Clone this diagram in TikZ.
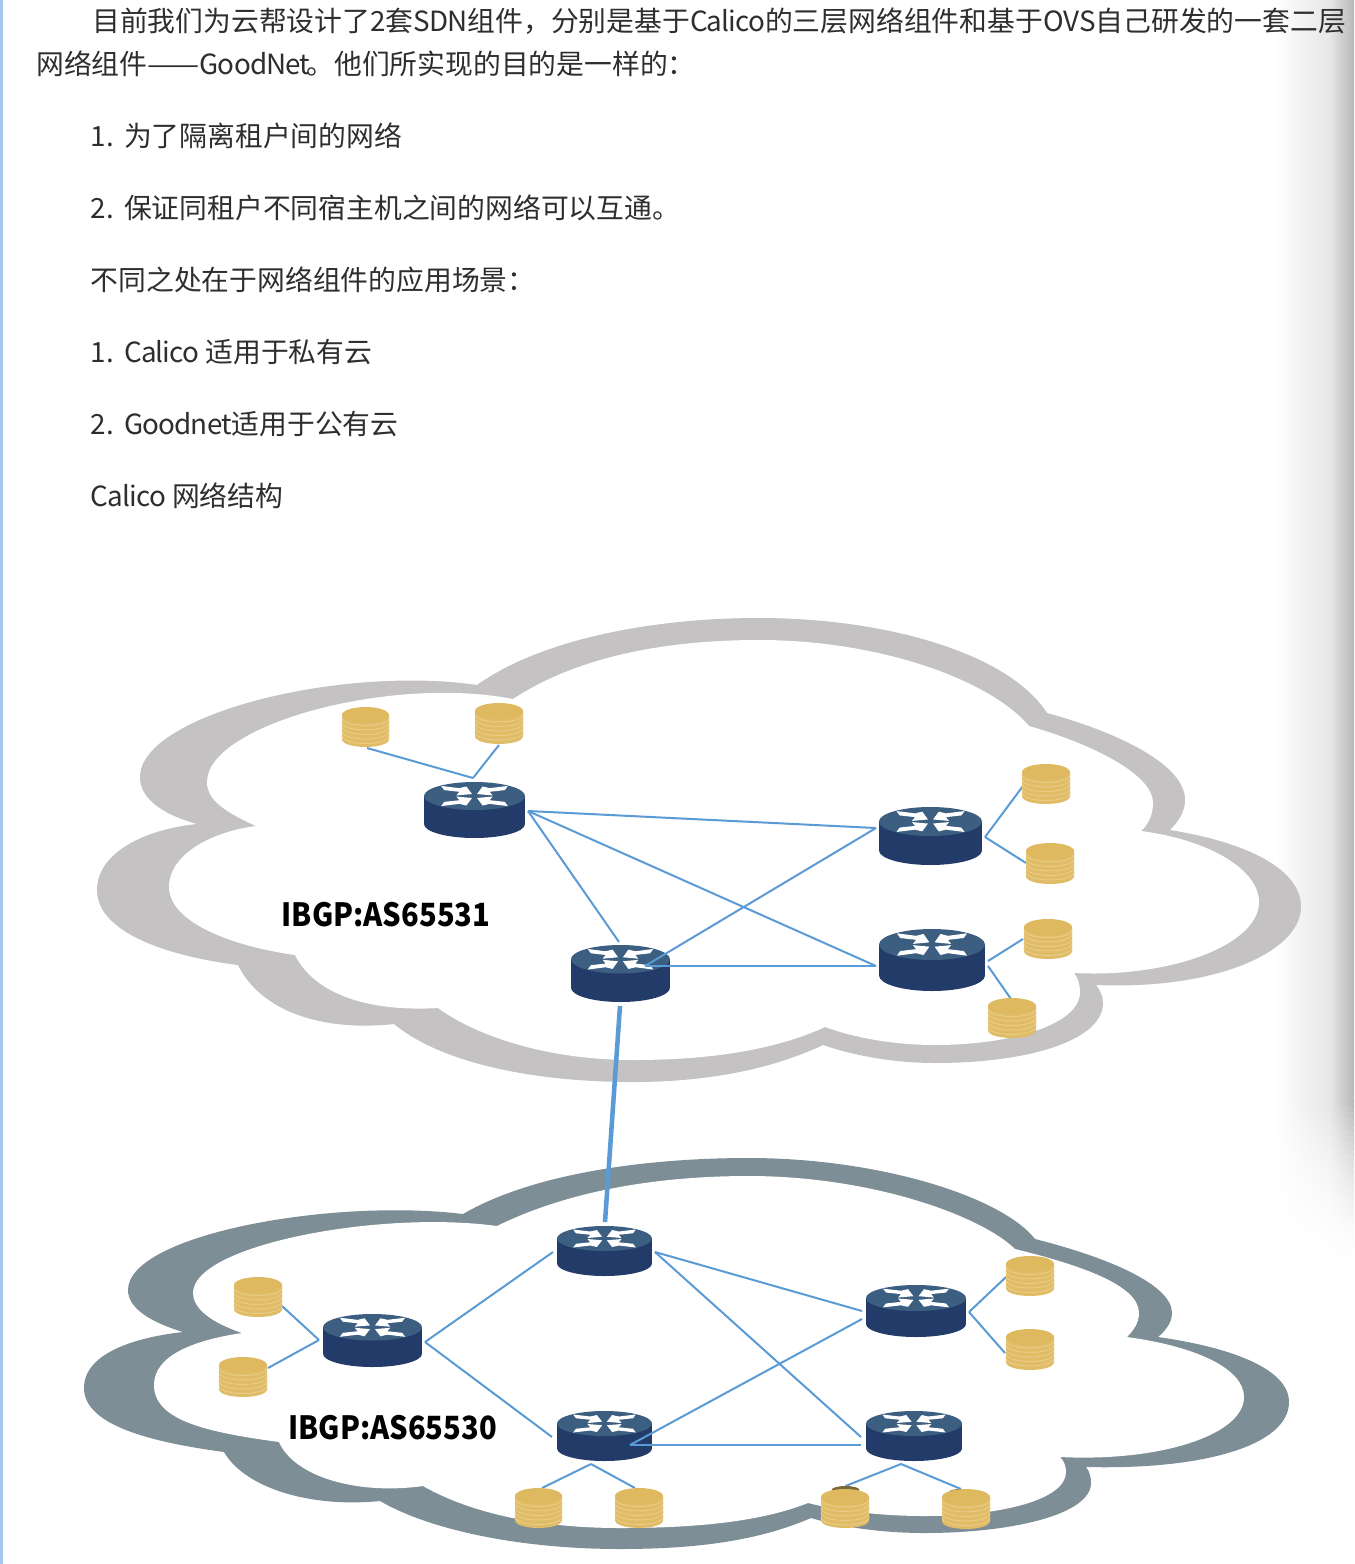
\documentclass[tikz,border=0pt]{standalone}
\usepackage{graphicx}
\usepackage{fontspec}
\setmainfont{Noto Sans CJK SC}
\newfontfamily\lat[LetterSpace=-3]{Noto Sans CJK SC}
\definecolor{cloudA}{HTML}{C4C2C3}
\definecolor{cloudB}{HTML}{7D8E96}
\definecolor{rbody}{HTML}{233B69}
\definecolor{rtop}{HTML}{3C5E80}
\definecolor{dbody}{HTML}{E0BC66}
\definecolor{dtop}{HTML}{DFB95F}
\definecolor{dline}{HTML}{E9CC88}
\definecolor{linkc}{HTML}{5B9BD5}
\definecolor{txt}{HTML}{2E2E2E}
\definecolor{strip}{HTML}{A6C5EE}
\tikzset{
  link/.style={draw=linkc,line width=1.5pt},
  biglink/.style={draw=linkc,line width=3.4pt},
  para/.style={anchor=base west,inner sep=0pt,text=txt,font=\fontsize{20.85pt}{24pt}\selectfont},
  cloudlabel/.style={anchor=center,inner sep=0pt,text=black,font=\fontsize{24pt}{28pt}\selectfont\bfseries},
  hold/.style={inner sep=0pt,outer sep=0pt}
}
% router: name, left, right, top, bottom
\newcommand{\routerbox}[5]{%
  \pgfmathsetmacro{\cxx}{(#2+#3)/2}\pgfmathsetmacro{\cyy}{(#4+#5)/2}%
  \pgfmathsetmacro{\rxx}{(#3-#2)/2}\pgfmathsetmacro{\ryy}{(#5-#4)/4}%
  \node[hold,minimum width={(#3-#2)*0.75pt},minimum height={(#5-#4)*0.75pt}] (#1) at (\cxx,\cyy) {};
  \begin{scope}[shift={(\cxx,\cyy)},x=\rxx*0.75pt,y=-\ryy*0.75pt]
    \fill[rbody] (-1,-1) rectangle (1,1);
    \fill[rbody] (0,1) ellipse [x radius=1,y radius=1];
    \fill[rtop] (0,-1) ellipse [x radius=1,y radius=1];
    \begin{scope}[shift={(0,-1)}]
      \foreach \sx/\sy in {-1/-1,1/-1,-1/1,1/1}{
        \fill[white,xscale=\sx,yscale=\sy] (.66,.72) -- (.60,.42) -- (.30,.30) -- (.36,.04) -- (.05,.14) -- (.16,.68) -- (.30,.56) -- cycle;
      }
    \end{scope}
  \end{scope}}
% disk: name, left, right, top, bottom
\newcommand{\diskbox}[5]{%
  \pgfmathsetmacro{\cxx}{(#2+#3)/2}\pgfmathsetmacro{\cyy}{(#4+#5)/2}%
  \pgfmathsetmacro{\rxx}{(#3-#2)/2}\pgfmathsetmacro{\hhh}{(#5-#4)/2}%
  \node[hold,minimum width={(#3-#2)*0.75pt},minimum height={(#5-#4)*0.75pt}] (#1) at (\cxx,\cyy) {};
  \begin{scope}[shift={(\cxx,\cyy)}]
    \fill[dbody] (-\rxx,{-\hhh+8}) -- (-\rxx,{\hhh-8}) .. controls (-\rxx,{\hhh+2.6}) and (\rxx,{\hhh+2.6}) .. (\rxx,{\hhh-8}) -- (\rxx,{-\hhh+8}) -- cycle;
    \foreach \dd in {-7.5,-3,1.5,6,10.5}{
      \draw[dline,line width=.7pt] (-\rxx,{\dd-2}) .. controls (-\rxx,{\dd+8.6}) and (\rxx,{\dd+8.6}) .. (\rxx,{\dd-2});
    }
    \fill[dtop] (0,{-\hhh+8}) ellipse [x radius=\rxx,y radius=8];
  \end{scope}}
\begin{document}
\begin{tikzpicture}[x=0.75pt,y=-0.75pt]
\useasboundingbox (0,0) rectangle (1354,1564);
\fill[white] (0,0) rectangle (1354,1564);
% page decoration
\fill[strip] (0,0) rectangle (3,1564);
\shade[left color=white,right color=black!10] (1274,0) rectangle (1331,1101);
\shade[left color=black!10,right color=black!28] (1330,0) rectangle (1354,1101);
\foreach \yy in {1100,1106,...,1270}{
  \pgfmathsetmacro{\ff}{max(0,(1-(\yy-1100)/170)^1.8)}
  \pgfmathsetmacro{\aa}{10*\ff}
  \pgfmathsetmacro{\bb}{28*\ff}
  \shade[left color=white,right color=black!\aa] (1274,\yy) rectangle (1331,\yy+7);
  \shade[left color=black!\aa,right color=black!\bb] (1330,\yy) rectangle (1354,\yy+7);
}
% upper cloud
\fill[cloudA] (477,685)
  .. controls (540,640) and (650,618) .. (759,618)
  .. controls (890,618) and (1010,655) .. (1047,713)
  .. controls (1120,733) and (1185,765) .. (1185,800)
  .. controls (1185,812) and (1178,822) .. (1170,830)
  .. controls (1250,843) and (1301,870) .. (1301,907)
  .. controls (1301,950) and (1220,990) .. (1096,985)
  .. controls (1100,990) and (1103,996) .. (1103,1003)
  .. controls (1103,1040) and (1030,1063) .. (935,1063)
  .. controls (895,1063) and (855,1056) .. (823,1045)
  .. controls (770,1070) and (705,1082) .. (633,1082)
  .. controls (530,1082) and (440,1062) .. (394,1024)
  .. controls (320,1032) and (260,1010) .. (238,965)
  .. controls (160,955) and (97,930) .. (97,890)
  .. controls (97,855) and (140,830) .. (197,824)
  .. controls (165,815) and (140,800) .. (140,777)
  .. controls (140,715) and (340,665) .. (477,685) -- cycle;
\fill[white] (513,699)
  .. controls (580,655) and (670,640) .. (759,640)
  .. controls (880,640) and (990,680) .. (1029,726)
  .. controls (1095,745) and (1153,775) .. (1153,803)
  .. controls (1153,815) and (1148,825) .. (1141,831)
  .. controls (1210,840) and (1259,870) .. (1259,902)
  .. controls (1259,945) and (1170,978) .. (1074,973)
  .. controls (1078,978) and (1080,985) .. (1080,992)
  .. controls (1080,1025) and (1010,1045) .. (935,1045)
  .. controls (895,1045) and (855,1038) .. (825,1027)
  .. controls (775,1050) and (710,1060) .. (633,1060)
  .. controls (545,1060) and (475,1035) .. (438,1008)
  .. controls (370,1012) and (315,995) .. (295,955)
  .. controls (225,945) and (169,920) .. (169,887)
  .. controls (169,855) and (210,832) .. (256,826)
  .. controls (225,812) and (207,800) .. (207,782)
  .. controls (207,725) and (390,675) .. (513,699) -- cycle;
% lower cloud
\fill[cloudB] (463,1214)
  .. controls (530,1175) and (640,1158) .. (749,1158)
  .. controls (875,1158) and (1000,1195) .. (1035,1239)
  .. controls (1110,1258) and (1172,1285) .. (1172,1313)
  .. controls (1172,1323) and (1165,1331) .. (1158,1337)
  .. controls (1235,1348) and (1289,1370) .. (1289,1402)
  .. controls (1289,1445) and (1205,1470) .. (1086,1467)
  .. controls (1090,1472) and (1091,1478) .. (1091,1483)
  .. controls (1091,1515) and (1010,1533) .. (925,1533)
  .. controls (885,1533) and (845,1528) .. (811,1518)
  .. controls (760,1540) and (700,1549) .. (620,1549)
  .. controls (520,1549) and (430,1530) .. (380,1501)
  .. controls (310,1508) and (245,1488) .. (224,1452)
  .. controls (150,1442) and (84,1425) .. (84,1388)
  .. controls (84,1355) and (130,1338) .. (183,1332)
  .. controls (150,1322) and (128,1308) .. (128,1290)
  .. controls (128,1235) and (330,1198) .. (463,1214) -- cycle;
\fill[white] (497,1226)
  .. controls (570,1190) and (660,1176) .. (749,1176)
  .. controls (870,1176) and (980,1215) .. (1015,1249)
  .. controls (1080,1265) and (1139,1285) .. (1139,1313)
  .. controls (1139,1323) and (1133,1331) .. (1127,1337)
  .. controls (1200,1347) and (1244,1370) .. (1244,1397)
  .. controls (1244,1435) and (1160,1462) .. (1060,1457)
  .. controls (1064,1461) and (1066,1466) .. (1066,1472)
  .. controls (1066,1500) and (1000,1516) .. (925,1516)
  .. controls (885,1516) and (845,1512) .. (808,1503)
  .. controls (760,1522) and (695,1528) .. (620,1528)
  .. controls (530,1528) and (465,1510) .. (423,1486)
  .. controls (360,1495) and (295,1478) .. (279,1442)
  .. controls (205,1432) and (154,1420) .. (154,1385)
  .. controls (154,1355) and (195,1340) .. (242,1333)
  .. controls (210,1322) and (193,1308) .. (193,1293)
  .. controls (193,1245) and (380,1210) .. (497,1226) -- cycle;
% routers
\routerbox{ra}{424}{525}{782}{838}
\routerbox{rb}{571}{670}{945}{1002}
\routerbox{rc}{879}{982}{807}{865}
\routerbox{rd}{879}{985}{929}{991}
\routerbox{re}{557}{652}{1226}{1276}
\routerbox{rf}{323}{422}{1314}{1367}
\routerbox{rg}{557}{652}{1411}{1461}
\routerbox{rh}{866}{962}{1411}{1461}
\routerbox{ri}{866}{966}{1285}{1337}
% connector ends
\coordinate (raE) at (528,811);
\coordinate (raN) at (473,778);
\coordinate (rbN) at (619,942);
\coordinate (rbI) at (645,966);
\coordinate (rbS) at (620,1006);
\coordinate (rcW) at (876,828);
\coordinate (rcE) at (985,837);
\coordinate (rdW) at (876,966);
\coordinate (rdEa) at (988,961);
\coordinate (rdEb) at (988,966);
\coordinate (reN) at (605,1222);
\coordinate (reW) at (553,1252);
\coordinate (reE) at (655,1252);
\coordinate (rfW) at (319,1340);
\coordinate (rfE) at (425,1342);
\coordinate (rgW) at (552,1437);
\coordinate (rgI) at (630,1445);
\coordinate (rgS) at (591,1464);
\coordinate (rhWa) at (861,1437);
\coordinate (rhWb) at (861,1445);
\coordinate (rhS) at (901,1464);
\coordinate (riWa) at (862,1311);
\coordinate (riWb) at (862,1319);
\coordinate (riE) at (969,1312);
\coordinate (daP) at (367,748);
\coordinate (dbP) at (499,745);
\coordinate (dcP) at (1023,786);
\coordinate (ddP) at (1026,863);
\coordinate (deP) at (1023,939);
\coordinate (dfP) at (1011,999);
\coordinate (dgP) at (1006,1277);
\coordinate (dhP) at (1005,1353);
\coordinate (diP) at (282,1306);
\coordinate (djP) at (268,1368);
\coordinate (dkP) at (542,1488);
\coordinate (dlP) at (635,1488);
\coordinate (dmP) at (845.5,1486);
\coordinate (dnP) at (961,1489);
% connectors
\draw[link] (raE) -- (rcW);
\draw[link] (raE) -- (rdW);
\draw[link] (raE) -- (rbN);
\draw[link] (rbI) -- (rcW);
\draw[link] (rbI) -- (rdW);
\draw[link] (raN) -- (daP);
\draw[link] (raN) -- (dbP);
\draw[link] (rcE) -- (dcP);
\draw[link] (rcE) -- (ddP);
\draw[link] (rdEa) -- (deP);
\draw[link] (rdEb) -- (dfP);
\draw[biglink] (rbS) -- (reN);
\draw[link] (rfW) -- (diP);
\draw[link] (rfW) -- (djP);
\draw[link] (rfE) -- (reW);
\draw[link] (rfE) -- (rgW);
\draw[link] (reE) -- (riWa);
\draw[link] (reE) -- (rhWa);
\draw[link] (rgI) -- (riWb);
\draw[link] (rgI) -- (rhWb);
\draw[link] (riE) -- (dgP);
\draw[link] (riE) -- (dhP);
\draw[link] (rgS) -- (dkP);
\draw[link] (rgS) -- (dlP);
\draw[link] (rhS) -- (dmP);
\draw[link] (rhS) -- (dnP);
% disks
\fill[black!45!dbody] (845.5,1490) ellipse [x radius=14,y radius=4];
\fill[black!45!dbody] (961,1492) ellipse [x radius=12,y radius=3];
\diskbox{da}{342}{389}{707}{747}
\diskbox{db}{475}{523}{703}{744}
\diskbox{dc}{1022}{1070}{764}{804}
\diskbox{dd}{1026}{1074}{843}{884}
\diskbox{de}{1024}{1072}{919}{959}
\diskbox{df}{988}{1036}{998}{1038}
\diskbox{dg}{1006}{1054}{1256}{1296}
\diskbox{dh}{1006}{1054}{1329}{1370}
\diskbox{di}{234}{282}{1277}{1317}
\diskbox{dj}{219}{267}{1357}{1397}
\diskbox{dk}{515}{562}{1488}{1528}
\diskbox{dl}{615}{663}{1488}{1528}
\diskbox{dm}{821}{869}{1489}{1528}
\diskbox{dn}{942}{990}{1489}{1529}
% cloud labels
\node[cloudlabel] (labA) at (386,915) {\scalebox{0.91}[1]{IBGP:AS65531}};
\node[cloudlabel] (labB) at (392.5,1428) {\scalebox{0.91}[1]{IBGP:AS65530}};
% text
\node[para] (t1) at (92,31.5) {目前我们为云帮设计了2套{\lat SDN}组件，分别是基于{\lat Calico}的三层网络组件和基于OVS自己研发的一套二层};
\node[para] (t2) at (36,74.5) {网络组件\scalebox{1.12}[1]{——}{\lat GoodNet}\kern-3pt。他们所实现的目的是一样的：};
\node[para] (t3) at (90.5,146.5) {1.\kern3pt\ 为了隔离租户间的网络};
\node[para] (t4) at (90.5,218.5) {2.\kern3pt\ 保证同租户不同宿主机之间的网络可以互通。};
\node[para] (t5) at (90.5,290.5) {不同之处在于网络组件的应用场景：};
\node[para] (t6) at (90.5,362.5) {1.\kern3pt\ {\lat Calico} 适用于私有云};
\node[para] (t7) at (90.5,434.5) {2.\kern3pt\ {\lat Goodnet}适用于公有云};
\node[para] (t8) at (90.5,506.5) {{\lat Calico} 网络结构};
\end{tikzpicture}
\end{document}
